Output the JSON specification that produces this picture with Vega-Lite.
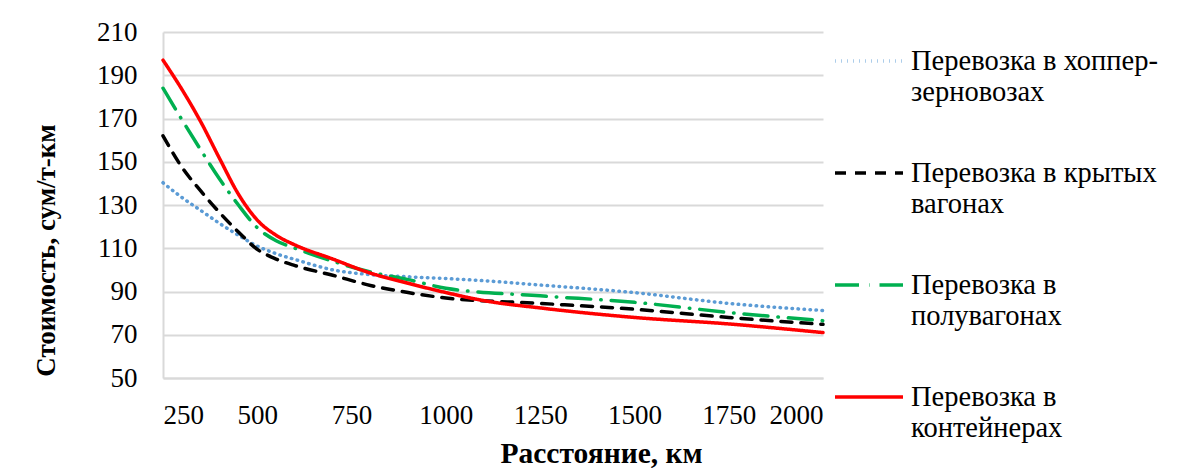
{
  "$schema": "https://vega.github.io/schema/vega-lite/v6.json",
  "width": 660,
  "height": 346,
  "autosize": {"type": "none"},
  "padding": {"left": 163, "top": 32, "right": 367, "bottom": 90},
  "background": "white",
  "datasets": {
    "rows": [
      {"d": 250, "s": "Перевозка в хоппер-зерновозах", "v": 140.3},
      {"d": 300, "s": "Перевозка в хоппер-зерновозах", "v": 133.5},
      {"d": 350, "s": "Перевозка в хоппер-зерновозах", "v": 127.5},
      {"d": 400, "s": "Перевозка в хоппер-зерновозах", "v": 121.5},
      {"d": 450, "s": "Перевозка в хоппер-зерновозах", "v": 116},
      {"d": 500, "s": "Перевозка в хоппер-зерновозах", "v": 111},
      {"d": 550, "s": "Перевозка в хоппер-зерновозах", "v": 107.5},
      {"d": 600, "s": "Перевозка в хоппер-зерновозах", "v": 104.8},
      {"d": 700, "s": "Перевозка в хоппер-зерновозах", "v": 100},
      {"d": 800, "s": "Перевозка в хоппер-зерновозах", "v": 97.8},
      {"d": 900, "s": "Перевозка в хоппер-зерновозах", "v": 96.8},
      {"d": 1000, "s": "Перевозка в хоппер-зерновозах", "v": 96},
      {"d": 1100, "s": "Перевозка в хоппер-зерновозах", "v": 95},
      {"d": 1250, "s": "Перевозка в хоппер-зерновозах", "v": 93},
      {"d": 1500, "s": "Перевозка в хоппер-зерновозах", "v": 89.5},
      {"d": 1750, "s": "Перевозка в хоппер-зерновозах", "v": 84.5},
      {"d": 2000, "s": "Перевозка в хоппер-зерновозах", "v": 81.2},

      {"d": 250, "s": "Перевозка в крытых вагонах", "v": 162},
      {"d": 300, "s": "Перевозка в крытых вагонах", "v": 147.5},
      {"d": 350, "s": "Перевозка в крытых вагонах", "v": 136.5},
      {"d": 400, "s": "Перевозка в крытых вагонах", "v": 126.5},
      {"d": 450, "s": "Перевозка в крытых вагонах", "v": 117.5},
      {"d": 500, "s": "Перевозка в крытых вагонах", "v": 109.5},
      {"d": 550, "s": "Перевозка в крытых вагонах", "v": 105},
      {"d": 600, "s": "Перевозка в крытых вагонах", "v": 102},
      {"d": 700, "s": "Перевозка в крытых вагонах", "v": 97.5},
      {"d": 800, "s": "Перевозка в крытых вагонах", "v": 92.8},
      {"d": 900, "s": "Перевозка в крытых вагонах", "v": 89.5},
      {"d": 1000, "s": "Перевозка в крытых вагонах", "v": 87},
      {"d": 1250, "s": "Перевозка в крытых вагонах", "v": 84.5},
      {"d": 1500, "s": "Перевозка в крытых вагонах", "v": 81.8},
      {"d": 1750, "s": "Перевозка в крытых вагонах", "v": 78},
      {"d": 2000, "s": "Перевозка в крытых вагонах", "v": 74.8},

      {"d": 250, "s": "Перевозка в полувагонах", "v": 184},
      {"d": 300, "s": "Перевозка в полувагонах", "v": 169.5},
      {"d": 350, "s": "Перевозка в полувагонах", "v": 155.5},
      {"d": 400, "s": "Перевозка в полувагонах", "v": 142},
      {"d": 450, "s": "Перевозка в полувагонах", "v": 130},
      {"d": 500, "s": "Перевозка в полувагонах", "v": 119.5},
      {"d": 550, "s": "Перевозка в полувагонах", "v": 113.5},
      {"d": 600, "s": "Перевозка в полувагонах", "v": 110},
      {"d": 700, "s": "Перевозка в полувагонах", "v": 104},
      {"d": 800, "s": "Перевозка в полувагонах", "v": 99},
      {"d": 900, "s": "Перевозка в полувагонах", "v": 95.5},
      {"d": 1000, "s": "Перевозка в полувагонах", "v": 91.5},
      {"d": 1250, "s": "Перевозка в полувагонах", "v": 88},
      {"d": 1500, "s": "Перевозка в полувагонах", "v": 85},
      {"d": 1750, "s": "Перевозка в полувагонах", "v": 80.3},
      {"d": 2000, "s": "Перевозка в полувагонах", "v": 76.5},

      {"d": 250, "s": "Перевозка в контейнерах", "v": 197},
      {"d": 300, "s": "Перевозка в контейнерах", "v": 183.5},
      {"d": 350, "s": "Перевозка в контейнерах", "v": 168.5},
      {"d": 400, "s": "Перевозка в контейнерах", "v": 151.5},
      {"d": 450, "s": "Перевозка в контейнерах", "v": 135},
      {"d": 500, "s": "Перевозка в контейнерах", "v": 123},
      {"d": 550, "s": "Перевозка в контейнерах", "v": 116},
      {"d": 600, "s": "Перевозка в контейнерах", "v": 111.5},
      {"d": 700, "s": "Перевозка в контейнерах", "v": 105},
      {"d": 800, "s": "Перевозка в контейнерах", "v": 98.5},
      {"d": 900, "s": "Перевозка в контейнерах", "v": 93.8},
      {"d": 1000, "s": "Перевозка в контейнерах", "v": 89.5},
      {"d": 1100, "s": "Перевозка в контейнерах", "v": 85.8},
      {"d": 1250, "s": "Перевозка в контейнерах", "v": 82.4},
      {"d": 1500, "s": "Перевозка в контейнерах", "v": 78},
      {"d": 1750, "s": "Перевозка в контейнерах", "v": 75},
      {"d": 2000, "s": "Перевозка в контейнерах", "v": 71}
    ]
  },
  "data": {"name": "rows"},
  "mark": {"type": "line", "interpolate": "monotone", "strokeWidth": 3.5, "strokeCap": "round"},
  "encoding": {
    "x": {
      "field": "d",
      "type": "quantitative",
      "scale": {"domain": [250, 2000], "nice": false, "zero": false},
      "axis": {
        "values": [250, 500, 750, 1000, 1250, 1500, 1750, 2000],
        "format": "d",
        "title": "Расстояние, км",
        "titleFontSize": 29.5,
        "grid": false,
        "ticks": false,
        "domain": true,
        "domainColor": "#d9d9d9",
        "domainWidth": 2,
        "labelPadding": 24,
        "titlePadding": 11,
        "titleX": 438
      }
    },
    "y": {
      "field": "v",
      "type": "quantitative",
      "scale": {"domain": [50, 210], "nice": false, "zero": false},
      "axis": {
        "values": [50, 70, 90, 110, 130, 150, 170, 190, 210],
        "format": "d",
        "title": "Стоимость, сум/т-км",
        "titleFontSize": 27,
        "grid": true,
        "gridColor": "#d9d9d9",
        "gridWidth": 2,
        "ticks": false,
        "domain": true,
        "domainColor": "#d9d9d9",
        "domainWidth": 2,
        "labelPadding": 26,
        "titlePadding": 36,
        "titleY": 218
      }
    },
    "color": {
      "field": "s",
      "type": "nominal",
      "scale": {
        "domain": ["Перевозка в хоппер-зерновозах", "Перевозка в крытых вагонах", "Перевозка в полувагонах", "Перевозка в контейнерах"],
        "range": ["#5b9bd5", "#000000", "#00b050", "#ff0000"]
      },
      "legend": {
        "title": null,
        "labelExpr": "datum.label == 'Перевозка в хоппер-зерновозах' ? ['Перевозка в хоппер-', 'зерновозах'] : datum.label == 'Перевозка в крытых вагонах' ? ['Перевозка в крытых', 'вагонах'] : datum.label == 'Перевозка в полувагонах' ? ['Перевозка в', 'полувагонах'] : ['Перевозка в', 'контейнерах']"
      }
    },
    "strokeDash": {
      "field": "s",
      "type": "nominal",
      "scale": {
        "domain": ["Перевозка в хоппер-зерновозах", "Перевозка в крытых вагонах", "Перевозка в полувагонах", "Перевозка в контейнерах"],
        "range": [[0.5, 5.5], [11, 9], [24, 10, 0.5, 10], [1, 0]]
      },
      "legend": {
        "title": null,
        "labelExpr": "datum.label == 'Перевозка в хоппер-зерновозах' ? ['Перевозка в хоппер-', 'зерновозах'] : datum.label == 'Перевозка в крытых вагонах' ? ['Перевозка в крытых', 'вагонах'] : datum.label == 'Перевозка в полувагонах' ? ['Перевозка в', 'полувагонах'] : ['Перевозка в', 'контейнерах']"
      }
    }
  },
  "config": {
    "view": {"stroke": null},
    "font": "Liberation Serif",
    "axis": {
      "labelFont": "Liberation Serif",
      "labelFontSize": 27,
      "labelColor": "#000000",
      "titleFont": "Liberation Serif",
      "titleFontWeight": "bold",
      "titleColor": "#000000"
    },
    "legend": {
      "orient": "none",
      "legendX": 670,
      "legendY": -7,
      "symbolType": "stroke",
      "symbolSize": 4624,
      "symbolStrokeWidth": 3.5,
      "labelFont": "Liberation Serif",
      "labelFontSize": 28.5,
      "labelColor": "#000000",
      "labelLimit": 400,
      "labelOffset": 6,
      "labelBaseline": "middle",
      "labelLineHeight": 33,
      "rowPadding": 31
    }
  }
}
